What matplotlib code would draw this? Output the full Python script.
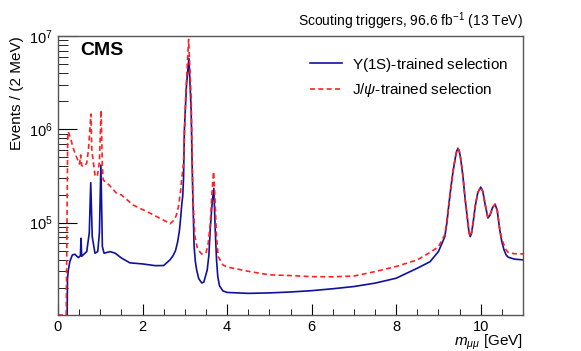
import matplotlib.pyplot as plt
import matplotlib.ticker as ticker

# dimuon mass [GeV] and events / 2 MeV
mass_ups = [0.21, 0.225, 0.245, 0.28, 0.34, 0.40, 0.48, 0.53, 0.545, 0.56, 0.68, 0.74,
            0.775, 0.81, 0.875, 0.94, 0.98, 1.015, 1.05, 1.09, 1.23, 1.35, 1.5, 1.7,
            2.0, 2.3, 2.5, 2.65, 2.72, 2.78, 2.83, 2.87, 2.90, 2.93, 2.95, 2.97, 2.99,
            3.04, 3.097, 3.15, 3.17, 3.19, 3.22, 3.25, 3.28, 3.33, 3.40, 3.45, 3.53,
            3.57, 3.60, 3.65, 3.686, 3.72, 3.75, 3.78, 3.82, 3.9, 4.0, 4.5, 5.0, 5.5,
            6.0, 6.5, 7.0, 7.5, 8.0, 8.5, 8.8, 9.0, 9.15, 9.2, 9.25, 9.30, 9.35, 9.40,
            9.43, 9.46, 9.49, 9.52, 9.55, 9.58, 9.63, 9.68, 9.72, 9.75, 9.78, 9.82,
            9.87, 9.93, 10.0, 10.05, 10.1, 10.17, 10.22, 10.28, 10.34, 10.39, 10.45,
            10.5, 10.55, 10.6, 10.65, 10.8, 11.0]
events_ups = [5e3, 2.5e4, 3.1e4, 3.81e4, 4.5e4, 4.57e4, 4.21e4, 4.4e4, 6.79e4, 4.35e4, 4.88e4, 7.74e4,
              2.68e5, 7.06e4, 4.69e4, 4.88e4, 7.74e4, 4.14e5, 5.52e4, 4.69e4, 4.88e4, 4.7e4, 4.17e4, 3.7e4,
              3.6e4, 3.45e4, 3.46e4, 3.98e4, 4.4e4, 5.0e4, 6.2e4, 8.0e4, 1.1e5, 1.6e5, 1.9e5, 3.0e5, 9.84e5,
              3.0e6, 5.77e6, 1.6e6, 5.0e5, 1.9e5, 5.52e4, 3.8e4, 3.1e4, 2.5e4, 2.25e4, 2.3e4, 3.1e4,
              4.5e4, 8.3e4, 1.7e5, 2.33e5, 8.3e4, 4.0e4, 2.63e4, 2.1e4, 1.85e4, 1.78e4, 1.74e4, 1.76e4, 1.8e4,
              1.86e4, 1.95e4, 2.06e4, 2.24e4, 2.53e4, 3.24e4, 3.8e4, 4.89e4, 7.06e4, 1.0e5, 1.62e5, 2.5e5, 3.66e5, 5.0e5,
              5.8e5, 6.25e5, 5.9e5, 5.0e5, 4.0e5, 3.1e5, 1.8e5, 1.15e5, 8.0e4, 7.06e4, 7.6e4, 1.0e5,
              1.5e5, 2.1e5, 2.4e5, 2.15e5, 1.6e5, 1.12e5, 1.2e5, 1.45e5, 1.57e5, 1.35e5, 8.3e4,
              6.2e4, 5.1e4, 4.5e4, 4.25e4, 4.05e4, 3.98e4]

mass_jpsi = [0.0, 0.19, 0.195, 0.23, 0.245, 0.30, 0.35, 0.40, 0.45, 0.51, 0.537, 0.56, 0.60,
             0.68, 0.72, 0.755, 0.78, 0.80, 0.875, 0.93, 0.98, 1.02, 1.05, 1.07, 1.21, 1.39,
             1.5, 1.78, 2.18, 2.57, 2.65, 2.75, 2.80, 2.85, 2.90, 2.93, 2.97, 3.02, 3.09,
             3.15, 3.19, 3.24, 3.30, 3.40, 3.50, 3.55, 3.60, 3.64, 3.68, 3.71, 3.75, 3.79,
             3.9, 4.0, 4.5, 5.0, 5.5, 6.0, 6.5, 7.0, 7.5, 8.0, 8.5, 8.8, 9.0, 9.15, 9.2,
             9.25, 9.30, 9.35, 9.40, 9.43, 9.46, 9.49, 9.52, 9.55, 9.58, 9.63, 9.68, 9.72,
             9.75, 9.78, 9.82, 9.87, 9.93, 10.0, 10.05, 10.1, 10.17, 10.22, 10.28, 10.34,
             10.39, 10.45, 10.5, 10.55, 10.6, 10.65, 10.8, 11.0]
events_jpsi = [1.02e4, 1.02e4, 1.02e4, 8.0e5, 9.42e5, 8.0e5, 6.5e5, 5.6e5, 4.9e5, 4.25e5, 5.3e5, 4.1e5, 3.97e5,
               4.32e5, 6.0e5, 1.0e6, 1.46e6, 6.0e5, 3.24e5, 3.1e5, 4.5e5, 1.61e6, 4.0e5, 2.86e5, 2.53e5, 2.05e5,
               1.98e5, 1.54e5, 1.26e5, 1.02e5, 9.7e4, 1.07e5, 1.2e5, 1.48e5, 2.2e5, 3.0e5, 4.35e5, 2.23e6, 9.22e6,
               2.23e6, 1.9e5, 7.06e4, 5.2e4, 4.6e4, 4.7e4, 5.8e4, 9.5e4, 2.0e5, 3.51e5, 2.0e5, 7.0e4, 4.31e4,
               3.52e4, 3.34e4, 3.0e4, 2.75e4, 2.7e4, 2.63e4, 2.62e4, 2.67e4, 2.98e4, 3.38e4, 3.98e4, 4.78e4, 5.51e4, 7.4e4, 1.05e5,
               1.65e5, 2.5e5, 3.66e5, 5.0e5, 5.8e5, 6.25e5, 5.9e5, 5.0e5, 4.0e5, 3.1e5, 1.8e5, 1.15e5, 8.1e4,
               7.1e4, 7.7e4, 1.0e5, 1.5e5, 2.1e5, 2.4e5, 2.15e5, 1.6e5, 1.13e5, 1.21e5, 1.46e5, 1.58e5,
               1.36e5, 8.5e4, 6.6e4, 5.76e4, 5.1e4, 4.78e4, 4.63e4, 4.61e4]

plt.rcParams['font.family'] = ['Liberation Sans', 'DejaVu Sans']
plt.rcParams['mathtext.fontset'] = 'custom'
plt.rcParams['mathtext.rm'] = 'Liberation Sans'
plt.rcParams['mathtext.it'] = 'Liberation Sans:italic'

fig = plt.figure(figsize=(5.81, 3.51), dpi=100)
ax = fig.add_axes([0.0998, 0.1026, 0.8004, 0.7945])

ax.plot(mass_ups, events_ups, color='#1010a0', lw=1.2, label=r'$\Upsilon$(1S)-trained selection')
ax.plot(mass_jpsi, events_jpsi, color='#ff2020', lw=1.2, ls=(0, (3, 2)),
        label=r'J/$\psi$-trained selection')

ax.set_yscale('log')
ax.set_xlim(0, 11)
ax.set_ylim(1.02e4, 1e7)

ax.xaxis.set_major_locator(ticker.MultipleLocator(2))
ax.xaxis.set_minor_locator(ticker.MultipleLocator(0.5))
ax.yaxis.set_major_locator(ticker.LogLocator(base=10, numticks=10))
ax.yaxis.set_minor_locator(ticker.LogLocator(base=10, subs=range(2, 10), numticks=20))
ax.yaxis.set_minor_formatter(ticker.NullFormatter())

ax.tick_params(which='both', direction='in', top=False, right=False, labelsize=10.5, colors='#000000')
ax.tick_params(which='major', axis='x', length=8)
ax.tick_params(which='minor', axis='x', length=4)
ax.tick_params(which='major', axis='y', length=14)
ax.tick_params(which='minor', axis='y', length=7)
for s in ax.spines.values():
    s.set_color('#555555')
    s.set_linewidth(1.0)

ax.set_xlabel(r'$m_{\mu\mu}$ [GeV]', fontsize=11, ha='right', va='top')
ax.xaxis.set_label_coords(1.0, -0.062)
ax.set_ylabel('Events / (2 MeV)', fontsize=11, loc='top', labelpad=4)

ax.text(1.0, 1.015, r'Scouting triggers, 96.6 fb$^{-1}$ (13 TeV)', transform=ax.transAxes,
        ha='right', va='bottom', fontsize=10)
ax.text(0.047, 0.978, 'CMS', transform=ax.transAxes, ha='left', va='top',
        fontsize=14, fontweight='bold')

ax.legend(loc='upper left', bbox_to_anchor=(0.542, 0.93), frameon=False, fontsize=11,
          handlelength=2.1, handletextpad=0.65, labelspacing=0.5, borderpad=0, borderaxespad=0)

fig.savefig('out.png', dpi=100)
